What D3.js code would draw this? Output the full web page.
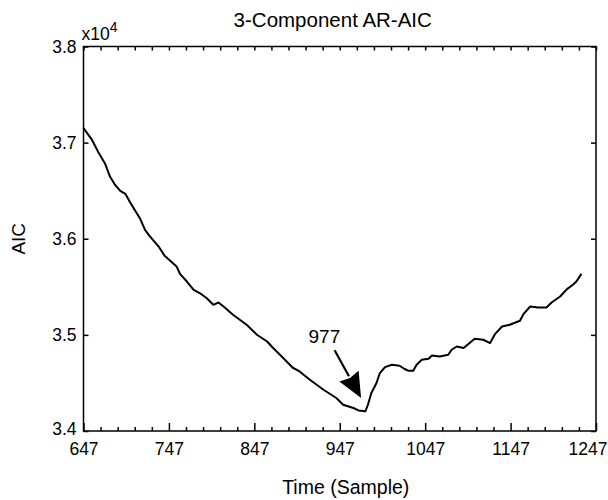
<!DOCTYPE html>
<html>
<head>
<meta charset="utf-8">
<script src="https://cdn.jsdelivr.net/npm/d3@7"></script>
<style>
  html, body { margin: 0; padding: 0; background: #fff; }
  svg { display: block; font-family: "Liberation Sans", Arial, Helvetica, sans-serif; }
</style>
</head>
<body>
<svg id="chart" width="608" height="500"></svg>
<script>
// ---- data ----
const samples = [647, 657, 664, 672, 678, 684, 690, 696, 701, 707, 713, 719, 725, 735, 742, 756,
  760, 768, 776, 783, 791, 799, 805, 811, 822, 838, 850, 862, 869, 877, 892, 900, 912, 928, 943,
  951, 963, 969, 977, 980, 984, 990, 994, 1000, 1008, 1017, 1023, 1027, 1033, 1037, 1043, 1051,
  1055, 1064, 1074, 1078, 1084, 1092, 1099, 1105, 1115, 1123, 1129, 1137, 1146, 1158, 1162, 1170,
  1179, 1189, 1195, 1205, 1213, 1220, 1224, 1230];
const aic = [37150, 37028, 36906, 36786, 36647, 36560, 36498, 36467, 36387, 36300, 36214, 36093,
  36023, 35919, 35822, 35711, 35635, 35555, 35469, 35435, 35383, 35313, 35337, 35295, 35209, 35105,
  35001, 34931, 34863, 34793, 34658, 34620, 34533, 34429, 34343, 34273, 34239, 34214, 34205, 34273,
  34395, 34499, 34603, 34665, 34689, 34679, 34645, 34627, 34627, 34689, 34741, 34752, 34786, 34776,
  34793, 34845, 34879, 34863, 34915, 34959, 34949, 34915, 35011, 35087, 35105, 35147, 35216, 35295,
  35285, 35285, 35337, 35399, 35476, 35521, 35555, 35635];
const xMajorTicks = [647, 747, 847, 947, 1047, 1147, 1247];
const xMinorTicks = d3.range(667, 1247, 20).filter(v => !xMajorTicks.includes(v));
const yTicks = [34000, 35000, 36000, 37000, 38000];
const titleText = "3-Component AR-AIC";
const xLabelText = "Time (Sample)";
const yLabelText = "AIC";
const annoText = "977";
const annoFrom = [941, 34840];   // arrow tail (sample, AIC)
const annoTo = [972, 34343];     // arrow tip (sample, AIC)
const annoLabelAt = [929, 34915];

// ---- layout ----
const svg = d3.select("#chart");
const L = 83.5, R = 596, T = 46.5, B = 431;
const x = d3.scaleLinear().domain([647, 1247]).range([L, R]);
const y = d3.scaleLinear().domain([34000, 38000]).range([B, T]);
const fsTick = 17.5;

function styleAxis(g) {
  g.select(".domain").remove();
  g.selectAll(".tick line").attr("stroke", "#000").attr("stroke-width", 1.5);
  g.selectAll(".tick text").attr("fill", "#000").style("font-size", fsTick + "px")
    .style("font-family", '"Liberation Sans", Arial, sans-serif');
}

// bottom axis major
const gb = svg.append("g").attr("transform", `translate(0,${B})`)
  .call(d3.axisBottom(x).tickValues(xMajorTicks).tickSize(-8).tickPadding(12).tickFormat(d3.format("d")))
  .call(styleAxis);
gb.selectAll(".tick text").filter(d => d === 1247).attr("text-anchor", "end").attr("dx", 11);
// bottom minor
svg.append("g").attr("transform", `translate(0,${B})`)
  .call(d3.axisBottom(x).tickValues(xMinorTicks).tickSize(-4).tickFormat(""))
  .call(styleAxis);
// top
svg.append("g").attr("transform", `translate(0,${T})`)
  .call(d3.axisTop(x).tickValues(xMajorTicks.concat(xMinorTicks)).tickSize(-4).tickFormat(""))
  .call(styleAxis);
// left
const gl = svg.append("g").attr("transform", `translate(${L},0)`)
  .call(d3.axisLeft(y).tickValues(yTicks).tickSize(-5).tickPadding(7).tickFormat(v => (v / 1e4).toFixed(1)))
  .call(styleAxis);
gl.selectAll(".tick text").filter(d => d === 34000).attr("dy", "0.2em");
// right
svg.append("g").attr("transform", `translate(${R},0)`)
  .call(d3.axisRight(y).tickValues(yTicks).tickSize(-5).tickFormat(""))
  .call(styleAxis);

// box
svg.append("rect").attr("x", L).attr("y", T).attr("width", R - L).attr("height", B - T)
  .attr("fill", "none").attr("stroke", "#000").attr("stroke-width", 1.5);

// line
const pts = samples.map((s, i) => [s, aic[i]]);
svg.append("path").datum(pts)
  .attr("fill", "none").attr("stroke", "#000").attr("stroke-width", 2)
  .attr("stroke-linejoin", "round")
  .attr("d", d3.line().x(d => x(d[0])).y(d => y(d[1])));

// exponent label
const ex = svg.append("text").attr("x", L - 2).attr("y", 39.5).attr("fill", "#000")
  .style("font-size", "17.5px");
ex.append("tspan").text("x10");
ex.append("tspan").attr("dy", -8).style("font-size", "14px").text("4");

// title
svg.append("text").attr("x", (L + R) / 2 - 7).attr("y", 27).attr("text-anchor", "middle")
  .attr("fill", "#000").style("font-size", "20.5px").text(titleText);
// x label
svg.append("text").attr("x", (L + R) / 2 + 6).attr("y", 494).attr("text-anchor", "middle")
  .attr("fill", "#000").style("font-size", "19.5px").text(xLabelText);
// y label
svg.append("text").attr("transform", `translate(25,${(T + B) / 2}) rotate(-90)`)
  .attr("text-anchor", "middle").attr("fill", "#000").style("font-size", "19px").text(yLabelText);

// annotation
const ax0 = x(annoFrom[0]), ay0 = y(annoFrom[1]);
const ax1 = x(annoTo[0]), ay1 = y(annoTo[1]);
const ang = Math.atan2(ay1 - ay0, ax1 - ax0);
const headLen = 25, headW = 11;
const bx = ax1 - headLen * Math.cos(ang), by = ay1 - headLen * Math.sin(ang);
const nx = -Math.sin(ang), ny = Math.cos(ang);
svg.append("line").attr("x1", ax0).attr("y1", ay0).attr("x2", bx).attr("y2", by)
  .attr("stroke", "#000").attr("stroke-width", 2.2);
svg.append("polygon")
  .attr("points", [[ax1, ay1], [bx + nx * headW, by + ny * headW], [bx + 2 * Math.cos(ang), by + 2 * Math.sin(ang)], [bx - nx * headW, by - ny * headW]].map(p => p.join(",")).join(" "))
  .attr("fill", "#000");
svg.append("text").attr("x", x(annoLabelAt[0])).attr("y", y(annoLabelAt[1]))
  .attr("text-anchor", "middle").attr("fill", "#000").style("font-size", "19px").text(annoText);
</script>
</body>
</html>
